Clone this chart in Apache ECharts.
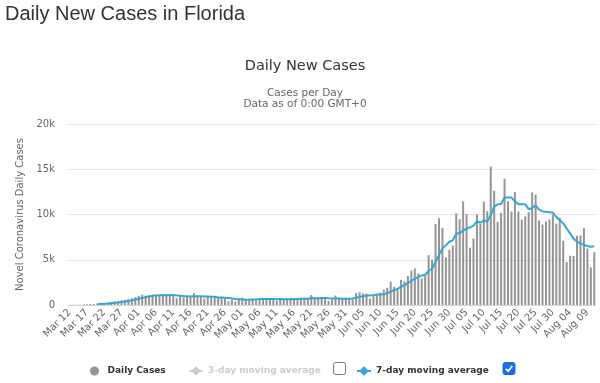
<!DOCTYPE html>
<html>
<head>
<meta charset="utf-8">
<script src="https://cdn.jsdelivr.net/npm/echarts@6/dist/echarts.min.js"></script>
<style>html,body{margin:0;padding:0;background:#fff}#c{width:600px;height:383px}</style>
</head>
<body>
<div id="c"></div>
<script>
// ---- data ----
var categories = [
 'Mar 12','Mar 13','Mar 14','Mar 15','Mar 16','Mar 17','Mar 18','Mar 19','Mar 20','Mar 21','Mar 22','Mar 23','Mar 24','Mar 25','Mar 26','Mar 27','Mar 28','Mar 29','Mar 30','Mar 31',
 'Apr 01','Apr 02','Apr 03','Apr 04','Apr 05','Apr 06','Apr 07','Apr 08','Apr 09','Apr 10','Apr 11','Apr 12','Apr 13','Apr 14','Apr 15','Apr 16','Apr 17','Apr 18','Apr 19','Apr 20','Apr 21','Apr 22','Apr 23','Apr 24','Apr 25','Apr 26','Apr 27','Apr 28','Apr 29','Apr 30',
 'May 01','May 02','May 03','May 04','May 05','May 06','May 07','May 08','May 09','May 10','May 11','May 12','May 13','May 14','May 15','May 16','May 17','May 18','May 19','May 20','May 21','May 22','May 23','May 24','May 25','May 26','May 27','May 28','May 29','May 30','May 31',
 'Jun 01','Jun 02','Jun 03','Jun 04','Jun 05','Jun 06','Jun 07','Jun 08','Jun 09','Jun 10','Jun 11','Jun 12','Jun 13','Jun 14','Jun 15','Jun 16','Jun 17','Jun 18','Jun 19','Jun 20','Jun 21','Jun 22','Jun 23','Jun 24','Jun 25','Jun 26','Jun 27','Jun 28','Jun 29','Jun 30',
 'Jul 01','Jul 02','Jul 03','Jul 04','Jul 05','Jul 06','Jul 07','Jul 08','Jul 09','Jul 10','Jul 11','Jul 12','Jul 13','Jul 14','Jul 15','Jul 16','Jul 17','Jul 18','Jul 19','Jul 20','Jul 21','Jul 22','Jul 23','Jul 24','Jul 25','Jul 26','Jul 27','Jul 28','Jul 29','Jul 30','Jul 31',
 'Aug 01','Aug 02','Aug 03','Aug 04','Aug 05','Aug 06','Aug 07','Aug 08','Aug 09','Aug 10','Aug 11'
];

var dailyCases = [
 // Mar 12-31
 18,27,26,39,60,56,106,122,131,235,200,250,330,400,450,520,560,650,750,880,
 // Apr
 1000,1150,1030,1100,1150,1050,1100,1080,1120,1100,1050,750,1000,850,950,950,1300,900,870,700,900,820,850,800,900,720,420,550,380,600,
 // May
 800,650,700,600,500,750,700,750,650,600,450,700,600,650,800,750,600,700,650,750,1100,700,750,800,650,450,600,1050,650,700,750,
 // Jun
 667,617,1317,1419,1305,1270,724,966,1096,1371,1698,1902,2581,2016,1758,2783,2610,3207,3822,4049,3494,2926,3289,5508,5004,8942,9585,8530,5266,6093,
 // Jul
 6563,10109,9488,11458,10059,6336,7347,9989,8935,11433,10360,15300,12624,9194,10181,13965,11466,10328,12478,10347,9440,9785,10249,12444,12199,9344,8892,9230,9446,9956,9007,
 // Aug 01-11
 9642,7104,4752,5446,5409,7650,7686,8502,6229,4155,5831
];

var sevenDayAvg = [
 // Mar 12-31
 null,null,null,null,null,null,null,null,77,107,130,157,196,238,285,341,387,451,523,601,
 // Apr
 687,787,860,937,1009,1051,1083,1094,1090,1100,1093,1036,1029,993,974,950,979,957,974,931,939,920,906,834,834,813,773,723,660,624,
 // May
 624,589,586,611,604,657,671,664,664,650,629,657,636,629,636,650,650,686,679,700,764,750,750,779,771,743,721,714,707,700,693,
 // Jun
 695,719,822,874,968,1049,1046,1088,1157,1164,1204,1290,1477,1661,1775,2016,2193,2408,2682,2892,3103,3270,3342,3756,4013,4745,5535,6255,6589,6990,
 // Jul
 7140,7870,7948,8215,8434,8587,8766,9255,9087,9365,9208,9957,10855,11119,11147,11865,11870,11865,11462,11137,11172,11116,10585,10724,10992,10544,10336,10306,10258,10216,9725,
 // Aug 01-11
 9360,9040,8448,7908,7331,7001,6813,6650,6525,6440,6495
];

var threeDayAvg = []; // hidden series (legend only)

var yTicks = [0, 5000, 10000, 15000, 20000];
var yTickLabels = ['0', '5k', '10k', '15k', '20k'];

// ---- chart ----
var chart = echarts.init(document.getElementById('c'), null, {renderer: 'canvas'});
var SANS = 'DejaVu Sans';

var option = {
  animation: false,
  backgroundColor: '#ffffff',
  textStyle: {fontFamily: SANS},
  grid: {left: 68, right: 4, top: 124, bottom: 78, containLabel: false},
  graphic: [
    {type: 'text', left: 5, top: 4, style: {text: 'Daily New Cases in Florida', fontFamily: 'Liberation Sans', fontSize: 20, fill: '#333333'}},
    {type: 'text', x: 305, y: 66, style: {text: 'Daily New Cases', align: 'center', verticalAlign: 'middle', fontFamily: SANS, fontSize: 14.5, fill: '#333333'}},
    {type: 'text', x: 305, y: 93, style: {text: 'Cases per Day', align: 'center', verticalAlign: 'middle', fontFamily: SANS, fontSize: 10.5, fill: '#666666'}},
    {type: 'text', x: 305, y: 104, style: {text: 'Data as of 0:00 GMT+0', align: 'center', verticalAlign: 'middle', fontFamily: SANS, fontSize: 10.5, fill: '#666666'}},
    // unchecked checkbox
    {type: 'rect', shape: {x: 333.5, y: 362.5, width: 12, height: 12, r: 2}, style: {fill: '#ffffff', stroke: '#767676', lineWidth: 1}},
    // checked checkbox
    {type: 'rect', shape: {x: 503, y: 362.5, width: 12, height: 12, r: 2}, style: {fill: '#1b6fe0', stroke: '#1b6fe0', lineWidth: 1}},
    {type: 'polyline', shape: {points: [[505.8, 368.8], [508.2, 371.2], [512.3, 365.8]]}, style: {stroke: '#ffffff', lineWidth: 1.8, fill: null}}
  ],
  legend: [
    {left: 85, top: 360, itemWidth: 16, itemHeight: 9, data: [{name: 'Daily Cases', icon: 'circle'}],
     textStyle: {fontFamily: SANS, fontSize: 9, fontWeight: 'bold', color: '#333333', lineHeight: 12}},
    {left: 183, top: 360, itemWidth: 14, itemHeight: 12, data: ['3-day moving average'],
     selected: {'3-day moving average': false}, inactiveColor: '#cccccc',
     textStyle: {fontFamily: SANS, fontSize: 9, fontWeight: 'bold', color: '#333333', lineHeight: 12}},
    {left: 351, top: 360, itemWidth: 14, itemHeight: 12, data: ['7-day moving average'],
     textStyle: {fontFamily: SANS, fontSize: 9, fontWeight: 'bold', color: '#333333', lineHeight: 12}}
  ],
  xAxis: {
    type: 'category',
    data: categories,
    boundaryGap: true,
    axisLine: {lineStyle: {color: '#ccd6eb'}},
    axisTick: {show: false},
    axisLabel: {interval: 4, rotate: 45, margin: 6, color: '#666666', fontSize: 10, fontFamily: SANS}
  },
  yAxis: {
    type: 'value',
    min: 0, max: 20000, interval: 5000,
    name: 'Novel Coronavirus Daily Cases',
    nameLocation: 'middle',
    nameGap: 40,
    nameTextStyle: {color: '#666666', fontSize: 10, fontFamily: SANS},
    axisLine: {show: false},
    axisTick: {show: false},
    splitLine: {lineStyle: {color: '#e6e6e6'}},
    axisLabel: {margin: 13, color: '#666666', fontSize: 10, fontFamily: SANS,
      formatter: function (v) { var i = yTicks.indexOf(v); return i >= 0 ? yTickLabels[i] : ''; }}
  },
  series: [
    {name: 'Daily Cases', type: 'bar', data: dailyCases, barWidth: '58%',
     itemStyle: {color: '#959595'}},
    {name: '3-day moving average', type: 'line', data: threeDayAvg, symbol: 'diamond', showSymbol: false,
     itemStyle: {color: '#999999'}, lineStyle: {color: '#999999', width: 2}},
    {name: '7-day moving average', type: 'line', data: sevenDayAvg, symbol: 'diamond', symbolSize: 7, showSymbol: false,
     connectNulls: false,
     itemStyle: {color: '#35a5d7'}, lineStyle: {color: '#35a5d7', width: 2}}
  ]
};
chart.setOption(option);
</script>
</body>
</html>
